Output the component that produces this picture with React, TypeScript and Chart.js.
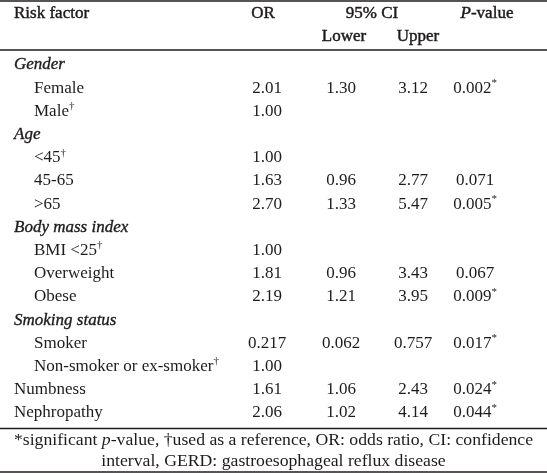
import React, { useEffect, useRef } from "react";
import { Chart, registerables } from "chart.js";

Chart.register(...registerables);

// ---- Table data ----
const rowLabels = [
  "Gender", "Female", "Male", "Age", "<45", "45-65", ">65",
  "Body mass index", "BMI <25", "Overweight", "Obese",
  "Smoking status", "Smoker", "Non-smoker or ex-smoker",
  "Numbness", "Nephropathy",
];
// g = group heading (italic), s = sub-item (indented), m = main item
const rowKinds = ["g", "s", "s", "g", "s", "s", "s", "g", "s", "s", "s", "g", "s", "s", "m", "m"];
const referenceRows = [false, false, true, false, true, false, false, false, true, false, false, false, false, true, false, false];
const orValues = ["", "2.01", "1.00", "", "1.00", "1.63", "2.70", "", "1.00", "1.81", "2.19", "", "0.217", "1.00", "1.61", "2.06"];
const lowerValues = ["", "1.30", "", "", "", "0.96", "1.33", "", "", "0.96", "1.21", "", "0.062", "", "1.06", "1.02"];
const upperValues = ["", "3.12", "", "", "", "2.77", "5.47", "", "", "3.43", "3.95", "", "0.757", "", "2.43", "4.14"];
const pValues = ["", "0.002", "", "", "", "0.071", "0.005", "", "", "0.067", "0.009", "", "0.017", "", "0.024", "0.044"];
const significant = [false, true, false, false, false, false, true, false, false, false, true, false, true, false, true, true];
const headerLabels = ["Risk factor", "OR", "95% CI", "P-value"];
const subHeaderLabels = ["Lower", "Upper"];
const footnoteLines = [
  [
    { t: "*significant ", s: "f" },
    { t: "p", s: "fi" },
    { t: "-value, \u2020used as a reference, OR: odds ratio, CI: confidence", s: "f" },
  ],
  [{ t: "interval, GERD: gastroesophageal reflux disease", s: "f" }],
];

// ---- Layout (positions / styles) ----
const W = 547;
const H = 473;
const FONT_FAMILY = '"Liberation Serif", "DejaVu Serif", serif';
const FS = 17;
const FS_FOOT = 17.7;
const COLOR = "#1f1b1c";
const L = {
  leftX: 14,
  indentX: 34,
  orX: 267,
  lowerX: 341,
  upperX: 413,
  pX: 475,
  hdrOrX: 263,
  hdrCiX: 372,
  hdrLowerX: 344,
  hdrUpperX: 418,
  hdrPX: 487,
  hdrY: 14,
  subHdrY: 37,
  firstRowY: 65,
  rowStep: 23.2,
  footY1: 440,
  footY2: 461,
  lineTop: 1,
  lineHdr: 50,
  lineFoot: 428.5,
  lineBottom: 472,
};

type Seg = { t: string; s: string };

function fontFor(s: string) {
  if (s === "i") return `italic ${FS}px ${FONT_FAMILY}`;
  if (s === "sup") return `${Math.round(FS * 0.62)}px ${FONT_FAMILY}`;
  if (s === "f") return `${FS_FOOT}px ${FONT_FAMILY}`;
  if (s === "fi") return `italic ${FS_FOOT}px ${FONT_FAMILY}`;
  return `${FS}px ${FONT_FAMILY}`;
}

function drawRich(
  ctx: CanvasRenderingContext2D,
  segs: Seg[],
  x: number,
  y: number,
  align: "left" | "center" | "right",
  stroke = 0
) {
  let total = 0;
  const widths = segs.map((sg) => {
    ctx.font = fontFor(sg.s);
    const w = ctx.measureText(sg.t).width;
    total += w;
    return w;
  });
  let cx = align === "left" ? x : align === "center" ? x - total / 2 : x - total;
  segs.forEach((sg, i) => {
    ctx.font = fontFor(sg.s);
    ctx.textAlign = "left";
    ctx.textBaseline = "middle";
    const dy = sg.s === "sup" ? -5 : 0;
    ctx.fillText(sg.t, cx, y + dy);
    if (stroke > 0) {
      ctx.lineWidth = stroke;
      ctx.strokeText(sg.t, cx, y + dy);
    }
    cx += widths[i];
  });
}

const tablePlugin = {
  id: "tableDraw",
  afterDraw(chart: any) {
    const ctx: CanvasRenderingContext2D = chart.ctx;
    const xs = chart.scales.x;
    const ys = chart.scales.y;
    const px = (v: number) => xs.getPixelForValue(v);
    const py = (v: number) => ys.getPixelForValue(v);
    ctx.save();
    ctx.fillStyle = COLOR;
    ctx.strokeStyle = COLOR;

    // rules
    const rule = (y: number, w: number) => {
      ctx.lineWidth = w;
      ctx.beginPath();
      ctx.moveTo(px(0), py(y));
      ctx.lineTo(px(W), py(y));
      ctx.stroke();
    };
    rule(L.lineTop, 1.6);
    rule(L.lineHdr, 1.6);
    rule(L.lineFoot, 1.6);
    rule(L.lineBottom, 1.6);

    // headers (slightly heavier)
    const hs = 0.45;
    drawRich(ctx, [{ t: headerLabels[0], s: "n" }], px(L.leftX), py(L.hdrY), "left", hs);
    drawRich(ctx, [{ t: headerLabels[1], s: "n" }], px(L.hdrOrX), py(L.hdrY), "center", hs);
    drawRich(ctx, [{ t: headerLabels[2], s: "n" }], px(L.hdrCiX), py(L.hdrY), "center", hs);
    drawRich(ctx, [{ t: headerLabels[3].slice(0, 1), s: "i" }, { t: headerLabels[3].slice(1), s: "n" }], px(L.hdrPX), py(L.hdrY), "center", hs);
    drawRich(ctx, [{ t: subHeaderLabels[0], s: "n" }], px(L.hdrLowerX), py(L.subHdrY), "center", hs);
    drawRich(ctx, [{ t: subHeaderLabels[1], s: "n" }], px(L.hdrUpperX), py(L.subHdrY), "center", hs);

    // rows
    rowLabels.forEach((label, i) => {
      const y = py(L.firstRowY + i * L.rowStep);
      const kind = rowKinds[i];
      if (kind === "g") {
        drawRich(ctx, [{ t: label, s: "i" }], px(L.leftX), y, "left", 0.35);
      } else {
        const segs: Seg[] = [{ t: label, s: "n" }];
        if (referenceRows[i]) segs.push({ t: "\u2020", s: "sup" });
        drawRich(ctx, segs, px(kind === "s" ? L.indentX : L.leftX), y, "left");
      }
      if (orValues[i]) drawRich(ctx, [{ t: orValues[i], s: "n" }], px(L.orX), y, "center");
      if (lowerValues[i]) drawRich(ctx, [{ t: lowerValues[i], s: "n" }], px(L.lowerX), y, "center");
      if (upperValues[i]) drawRich(ctx, [{ t: upperValues[i], s: "n" }], px(L.upperX), y, "center");
      if (pValues[i]) {
        const segs: Seg[] = [{ t: pValues[i], s: "n" }];
        if (significant[i]) segs.push({ t: "*", s: "sup" });
        drawRich(ctx, segs, px(L.pX), y, "center");
      }
    });

    // footnote
    drawRich(ctx, footnoteLines[0], px(W / 2), py(L.footY1), "center");
    drawRich(ctx, footnoteLines[1], px(W / 2), py(L.footY2), "center");
    ctx.restore();
  },
};

export default function App() {
  const ref = useRef<HTMLCanvasElement | null>(null);
  useEffect(() => {
    document.body.style.margin = "0";
    document.body.style.background = "#ffffff";
    if (!ref.current) return;
    const chart = new Chart(ref.current, {
      type: "scatter",
      data: { datasets: [{ data: [], pointRadius: 0 }] },
      options: {
        animation: false,
        responsive: true,
        maintainAspectRatio: false,
        layout: { padding: 0 },
        plugins: { legend: { display: false }, tooltip: { enabled: false } },
        scales: {
          x: { type: "linear", min: 0, max: W, display: false },
          y: { type: "linear", min: 0, max: H, reverse: true, display: false },
        },
      },
      plugins: [tablePlugin],
    });
    return () => chart.destroy();
  }, []);
  return (
    <div style={{ width: W, height: H, position: "relative", background: "#fff" }}>
      <canvas ref={ref} />
    </div>
  );
}
